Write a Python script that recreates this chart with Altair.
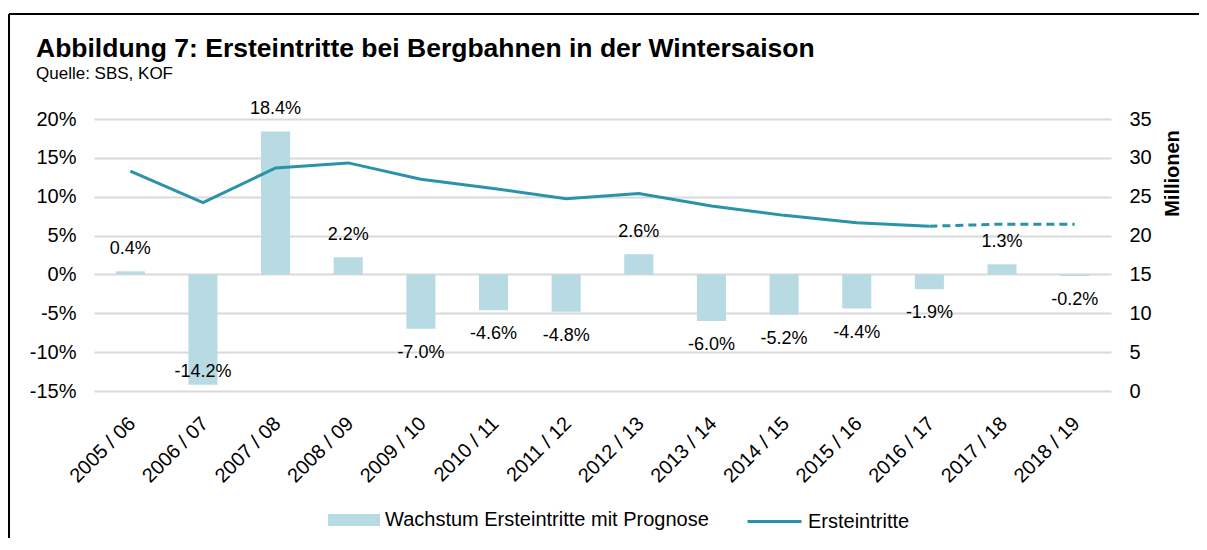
import altair as alt
import pandas as pd

FONT = "Liberation Sans"
BAR = "#B7DAE3"
LINE = "#2A93A7"

seasons = ["2005 / 06", "2006 / 07", "2007 / 08", "2008 / 09", "2009 / 10",
           "2010 / 11", "2011 / 12", "2012 / 13", "2013 / 14", "2014 / 15",
           "2015 / 16", "2016 / 17", "2017 / 18", "2018 / 19"]
growth_pct = [0.4, -14.2, 18.4, 2.2, -7.0, -4.6, -4.8, 2.6, -6.0, -5.2, -4.4, -1.9, 1.3, -0.2]
entries_mio = [28.3, 24.25, 28.7, 29.35, 27.25, 26.05, 24.75, 25.4, 23.8, 22.6, 21.65, 21.2, 21.47, 21.45]
last_actual_index = 11  # 2016 / 17, after that: forecast (dashed)

BAR_SERIES = "Wachstum Ersteintritte mit Prognose"
LINE_SERIES = "Ersteintritte"

bar_df = pd.DataFrame({
    "season": seasons,
    "growth": growth_pct,
    "label": [f"{v:.1f}%" for v in growth_pct],
    "series": BAR_SERIES,
})
line_df = pd.DataFrame({
    "season": seasons,
    "entries": entries_mio,
    "idx": list(range(len(seasons))),
    "series": LINE_SERIES,
})

x_axis = alt.Axis(title=None, labelAngle=315, labelFontSize=20, labelFont=FONT,
                  labelColor="black", labelPadding=22, labelOffset=-5,
                  ticks=False, domain=False, labelOverlap=False)
x_enc = alt.X("season:N", sort=seasons,
              scale=alt.Scale(paddingInner=0.6, paddingOuter=0.3), axis=x_axis)

left_scale = alt.Scale(domain=[-15, 20], nice=False, zero=False)
right_scale = alt.Scale(domain=[0, 35], nice=False, zero=False)

left_axis = alt.Axis(title=None, values=[-15, -10, -5, 0, 5, 10, 15, 20],
                     labelExpr="datum.value + '%'", grid=True,
                     gridColor="#D9D9D9", gridWidth=2, domain=False,
                     ticks=False, labelFontSize=20, labelFont=FONT,
                     labelColor="black", labelPadding=18)
right_axis = alt.Axis(orient="right", values=[0, 5, 10, 15, 20, 25, 30, 35],
                      grid=False, domain=False, ticks=False,
                      labelFontSize=20, labelFont=FONT, labelColor="black",
                      labelPadding=18, title="Millionen", titleFontSize=20,
                      titleFont=FONT, titleFontWeight="bold", titleColor="black",
                      titleAngle=270, titleX=61, titleY=54, titleAlign="center",
                      titleBaseline="middle")

bars = alt.Chart(bar_df).mark_bar(color=BAR).encode(
    x=x_enc,
    y=alt.Y("growth:Q", scale=left_scale, axis=left_axis),
    color=alt.Color("series:N",
                    scale=alt.Scale(domain=[BAR_SERIES], range=[BAR]),
                    legend=alt.Legend(title=None, orient="none", legendX=234, legendY=375,
                                      symbolType="M-1,-0.23L1,-0.23L1,0.23L-1,0.23Z",
                                      symbolSize=2704, symbolStrokeWidth=0,
                                      labelFontSize=20, labelFont=FONT, labelColor="black",
                                      labelLimit=600, labelOffset=5, padding=0)),
)

labels = alt.Chart(bar_df).transform_calculate(
    label_pos="datum.growth >= 0 ? datum.growth + 2.85 : max(datum.growth - 3.1, -12.6)"
).mark_text(fontSize=18, font=FONT, color="black", baseline="middle").encode(
    x=x_enc,
    y=alt.Y("label_pos:Q", scale=left_scale, axis=left_axis),
    text="label:N",
)

line_solid = alt.Chart(line_df).transform_filter(
    f"datum.idx <= {last_actual_index}"
).mark_line(strokeWidth=3).encode(
    x=x_enc,
    y=alt.Y("entries:Q", scale=right_scale, axis=right_axis),
    color=alt.Color("series:N",
                    scale=alt.Scale(domain=[LINE_SERIES], range=[LINE]),
                    legend=alt.Legend(title=None, orient="none", legendX=652, legendY=374,
                                      symbolType="stroke", symbolSize=2916,
                                      symbolStrokeWidth=3,
                                      labelFontSize=20, labelFont=FONT, labelColor="black",
                                      labelLimit=600, labelOffset=5, padding=0)),
)

line_dash = alt.Chart(line_df).transform_filter(
    f"datum.idx >= {last_actual_index}"
).mark_line(strokeWidth=3, strokeDash=[8, 5], color=LINE).encode(
    x=x_enc,
    y=alt.Y("entries:Q", scale=right_scale, axis=right_axis),
)

frame_df = pd.DataFrame({"k": [0]})
frame_top = alt.Chart(frame_df).mark_rule(color="black", strokeWidth=2, strokeCap="butt").encode(
    x=alt.value(-85), x2=alt.value(1110), y=alt.value(-105), y2=alt.value(-105)
)
frame_left = alt.Chart(frame_df).mark_rule(color="black", strokeWidth=2, strokeCap="butt").encode(
    x=alt.value(-85), x2=alt.value(-85), y=alt.value(-105), y2=alt.value(431)
)

chart = alt.layer(
    frame_top, frame_left,
    alt.layer(bars, labels),
    alt.layer(line_solid, line_dash),
).resolve_scale(
    y="independent", color="independent"
).properties(
    width=1017, height=272,
    padding={"left": 86, "top": 111, "right": 88, "bottom": 147},
    autosize=alt.AutoSizeParams(type="none"),
    title=alt.TitleParams(
        text="Abbildung 7: Ersteintritte bei Bergbahnen in der Wintersaison",
        subtitle="Quelle: SBS, KOF",
        anchor="start", frame="group", dx=-58, offset=-69,
        font=FONT, fontSize=26.5, fontWeight="bold", color="black",
        subtitleFont=FONT, subtitleFontSize=17, subtitleColor="black",
        subtitlePadding=4,
    ),
).configure(
    background="white"
).configure_view(
    stroke="transparent"
)

chart.save("out.html", embed_options={"renderer": "svg", "actions": False})
